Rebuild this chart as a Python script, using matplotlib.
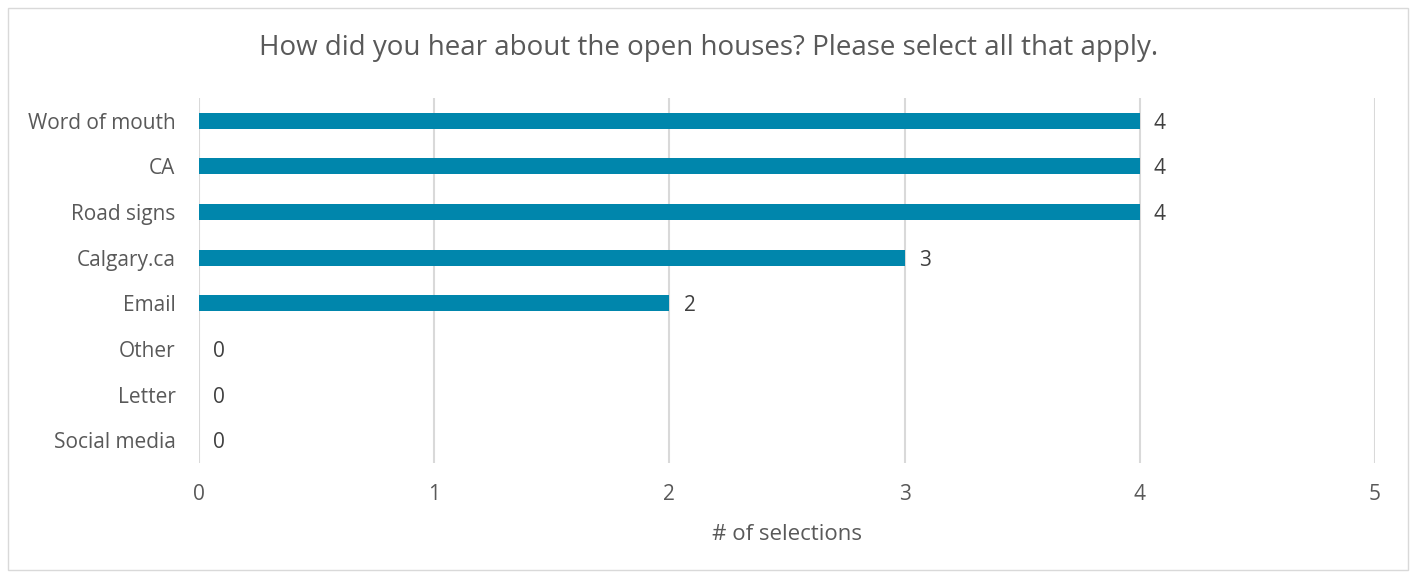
import matplotlib
matplotlib.use("Agg")
import matplotlib.pyplot as plt
from matplotlib.patches import Rectangle

categories = ["Word of mouth", "CA", "Road signs", "Calgary.ca", "Email", "Other", "Letter", "Social media"]
values = [4, 4, 4, 3, 2, 0, 0, 0]
xticks = [0, 1, 2, 3, 4, 5]

plt.rcParams['font.family'] = ['Open Sans', 'DejaVu Sans']
txt = '#595959'
grid = '#D9D9D9'
bar_color = '#0086AC'

fig = plt.figure(figsize=(14.16, 5.78), dpi=100)
fig.patches.append(Rectangle((8/1416, 8/578), 1400/1416, 562/578, transform=fig.transFigure,
                             fill=False, edgecolor='#D9D9D9', linewidth=1.0))
ax = fig.add_axes([199/1416, 1-463/578, 1176/1416, 365/578])

n = len(categories)
ypos = list(range(n))
ax.barh(ypos, values, height=0.35, color=bar_color, zorder=3)
ax.set_ylim(n - 0.5, -0.5)
ax.set_xlim(0, 5)
ax.set_xticks(xticks)
ax.set_yticks(ypos)
ax.set_yticklabels(categories)
ax.xaxis.grid(True, color=grid, linewidth=1.5, zorder=0)
ax.set_axisbelow(True)
for s in ax.spines.values():
    s.set_visible(False)
ax.tick_params(axis='both', length=0, labelsize=15, colors=txt)
ax.tick_params(axis='x', pad=15)
ax.tick_params(axis='y', pad=17)

for y, v in zip(ypos, values):
    ax.text(v + 0.06, y, str(v), va='center_baseline', ha='left', fontsize=15, color='#404040')

ax.set_xlabel('# of selections', fontsize=16, color=txt, labelpad=14)
fig.text(709/1416, 1 - 48/578,
         'How did you hear about the open houses? Please select all that apply.',
         ha='center', va='center', fontsize=20, color=txt)

fig.savefig('out.png', dpi=100)
